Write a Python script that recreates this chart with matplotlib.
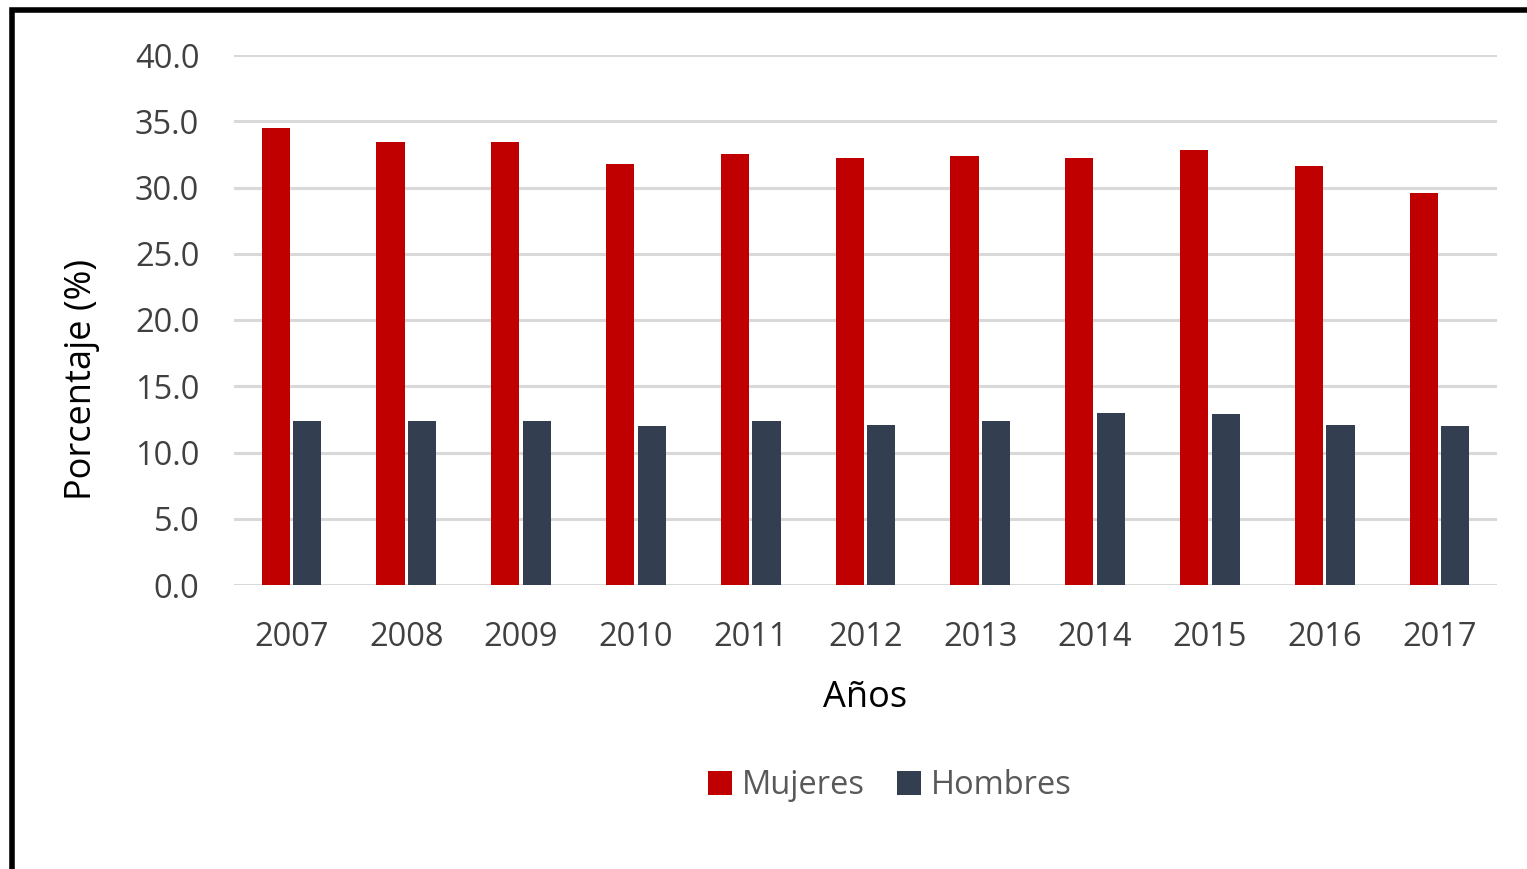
import matplotlib
matplotlib.use("Agg")
import matplotlib.pyplot as plt
import numpy as np
from matplotlib.patches import Rectangle

years = ["2007", "2008", "2009", "2010", "2011", "2012", "2013", "2014", "2015", "2016", "2017"]
mujeres = [34.5, 33.4, 33.4, 31.8, 32.5, 32.2, 32.4, 32.2, 32.8, 31.6, 29.6]
hombres = [12.4, 12.4, 12.4, 12.0, 12.4, 12.1, 12.4, 13.0, 12.9, 12.1, 12.0]
yticks = [0, 5, 10, 15, 20, 25, 30, 35, 40]

plt.rcParams['font.family'] = ['Open Sans', 'DejaVu Sans']
FS = 23.5
LFS = 26

W, H = 1527, 869
fig = plt.figure(figsize=(W / 100, H / 100), dpi=100)
ax = fig.add_axes([234 / W, 1 - 585 / H, (1497 - 234) / W, (585 - 55) / H])

x = np.arange(len(years))
w = 0.245
gap = 0.03
ax.bar(x - (w + gap) / 2, mujeres, width=w, color="#C00000", label="Mujeres", zorder=3)
ax.bar(x + (w + gap) / 2, hombres, width=w, color="#333F50", label="Hombres", zorder=3)

ax.set_xlim(-0.5, len(years) - 0.5)
ax.set_ylim(0, 40)
ax.set_yticks(yticks)
ax.set_yticklabels([f"{v:.1f}" for v in yticks])
ax.set_xticks(x)
ax.set_xticklabels(years)
ax.grid(axis="y", color="#D9D9D9", linewidth=2.2, zorder=0)
for s in ax.spines.values():
    s.set_visible(False)
ax.tick_params(axis="both", length=0, labelsize=FS, colors="#404040")
ax.tick_params(axis="x", pad=26)
ax.tick_params(axis="y", pad=25)

fig.text(82 / W, 1 - 379 / H, "Porcentaje (%)", rotation=90, ha="center", va="center",
         fontsize=LFS, color="black")
fig.text(865 / W, 1 - 698 / H, "Años", ha="center", va="center", fontsize=LFS, color="black")

leg = fig.legend(loc="center", bbox_to_anchor=(890 / W, 1 - 786 / H), ncol=2, frameon=False,
                 fontsize=FS, handlelength=0.72, handleheight=0.72, handletextpad=0.3,
                 columnspacing=1.0, borderpad=0)
for t in leg.get_texts():
    t.set_color("#595959")

# black frame on left and top
fig.patches.append(Rectangle((12 / W, -0.1), 1.5, (H - 10) / H + 0.1, transform=fig.transFigure,
                             fill=False, edgecolor="black", linewidth=4, zorder=10))

fig.savefig("out.png", dpi=100)
